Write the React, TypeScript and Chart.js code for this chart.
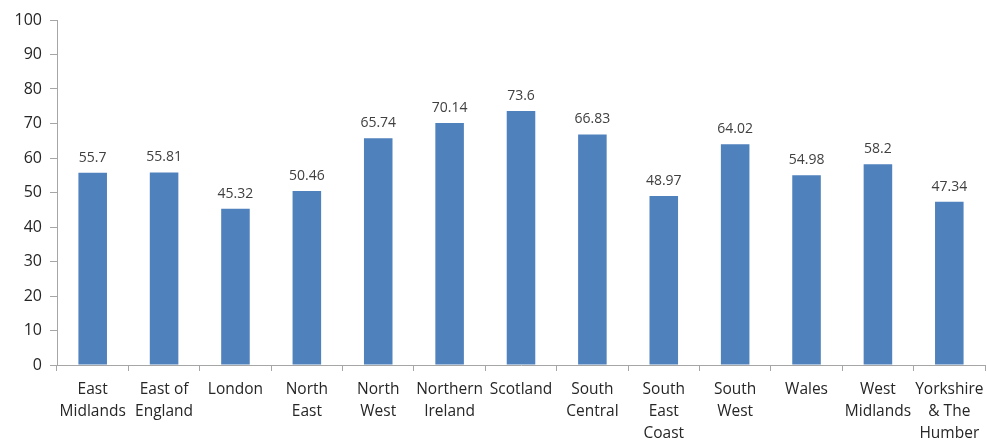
import React, { useEffect, useRef } from "react";
import { Chart, registerables } from "chart.js";

Chart.register(...registerables);

const categories: (string | string[])[] = [
  ["East", "Midlands"],
  ["East of", "England"],
  "London",
  ["North", "East"],
  ["North", "West"],
  ["Northern", "Ireland"],
  "Scotland",
  ["South", "Central"],
  ["South", "East", "Coast"],
  ["South", "West"],
  "Wales",
  ["West", "Midlands"],
  ["Yorkshire", "& The", "Humber"],
];

const values: number[] = [55.7, 55.81, 45.32, 50.46, 65.74, 70.14, 73.6, 66.83, 48.97, 64.02, 54.98, 58.2, 47.34];

const yMin = 0;
const yMax = 100;
const yStep = 10;

const FONT = "'Open Sans', sans-serif";

const valueLabels = {
  id: "valueLabels",
  afterDatasetsDraw(chart: any) {
    const ctx = chart.ctx;
    const meta = chart.getDatasetMeta(0);
    ctx.save();
    ctx.font = `14px ${FONT}`;
    ctx.fillStyle = "#404040";
    ctx.textAlign = "center";
    ctx.textBaseline = "bottom";
    meta.data.forEach((el: any, i: number) => {
      ctx.fillText(String(values[i]), el.x, el.y - 8);
    });
    ctx.restore();
  },
};

export default function App() {
  const ref = useRef<HTMLCanvasElement>(null);
  useEffect(() => {
    document.body.style.margin = "0";
    const chart = new Chart(ref.current!, {
      type: "bar",
      data: {
        labels: categories,
        datasets: [
          {
            data: values,
            backgroundColor: "#4F81BD",
            barPercentage: 0.4,
            categoryPercentage: 1,
          },
        ],
      },
      options: {
        animation: false,
        responsive: false,
        maintainAspectRatio: false,
        layout: { padding: { top: 20, right: 2, left: 0, bottom: 0 } },
        plugins: { legend: { display: false }, tooltip: { enabled: false } },
        scales: {
          x: {
            afterFit: (s: any) => {
              s.height = 79;
              s.paddingLeft = 0;
              s.paddingRight = 0;
            },
            grid: {
              offset: true,
              drawOnChartArea: false,
              tickLength: 6,
              color: "#a6a6a6",
            },
            border: { color: "#a6a6a6" },
            ticks: {
              color: "#262626",
              font: { family: FONT, size: 15.5, lineHeight: 1.42 },
              padding: 8,
              maxRotation: 0,
              autoSkip: false,
            },
          },
          y: {
            min: yMin,
            max: yMax,
            afterFit: (s: any) => {
              s.width = 57;
            },
            grid: {
              drawOnChartArea: false,
              tickLength: 7,
              color: "#a6a6a6",
            },
            border: { color: "#a6a6a6" },
            ticks: {
              stepSize: yStep,
              color: "#262626",
              font: { family: FONT, size: 16 },
              padding: 8,
            },
          },
        },
      },
      plugins: [valueLabels],
    });
    return () => chart.destroy();
  }, []);
  return (
    <div style={{ width: 987, height: 444 }}>
      <canvas ref={ref} width={987} height={444} style={{ display: "block" }} />
    </div>
  );
}
